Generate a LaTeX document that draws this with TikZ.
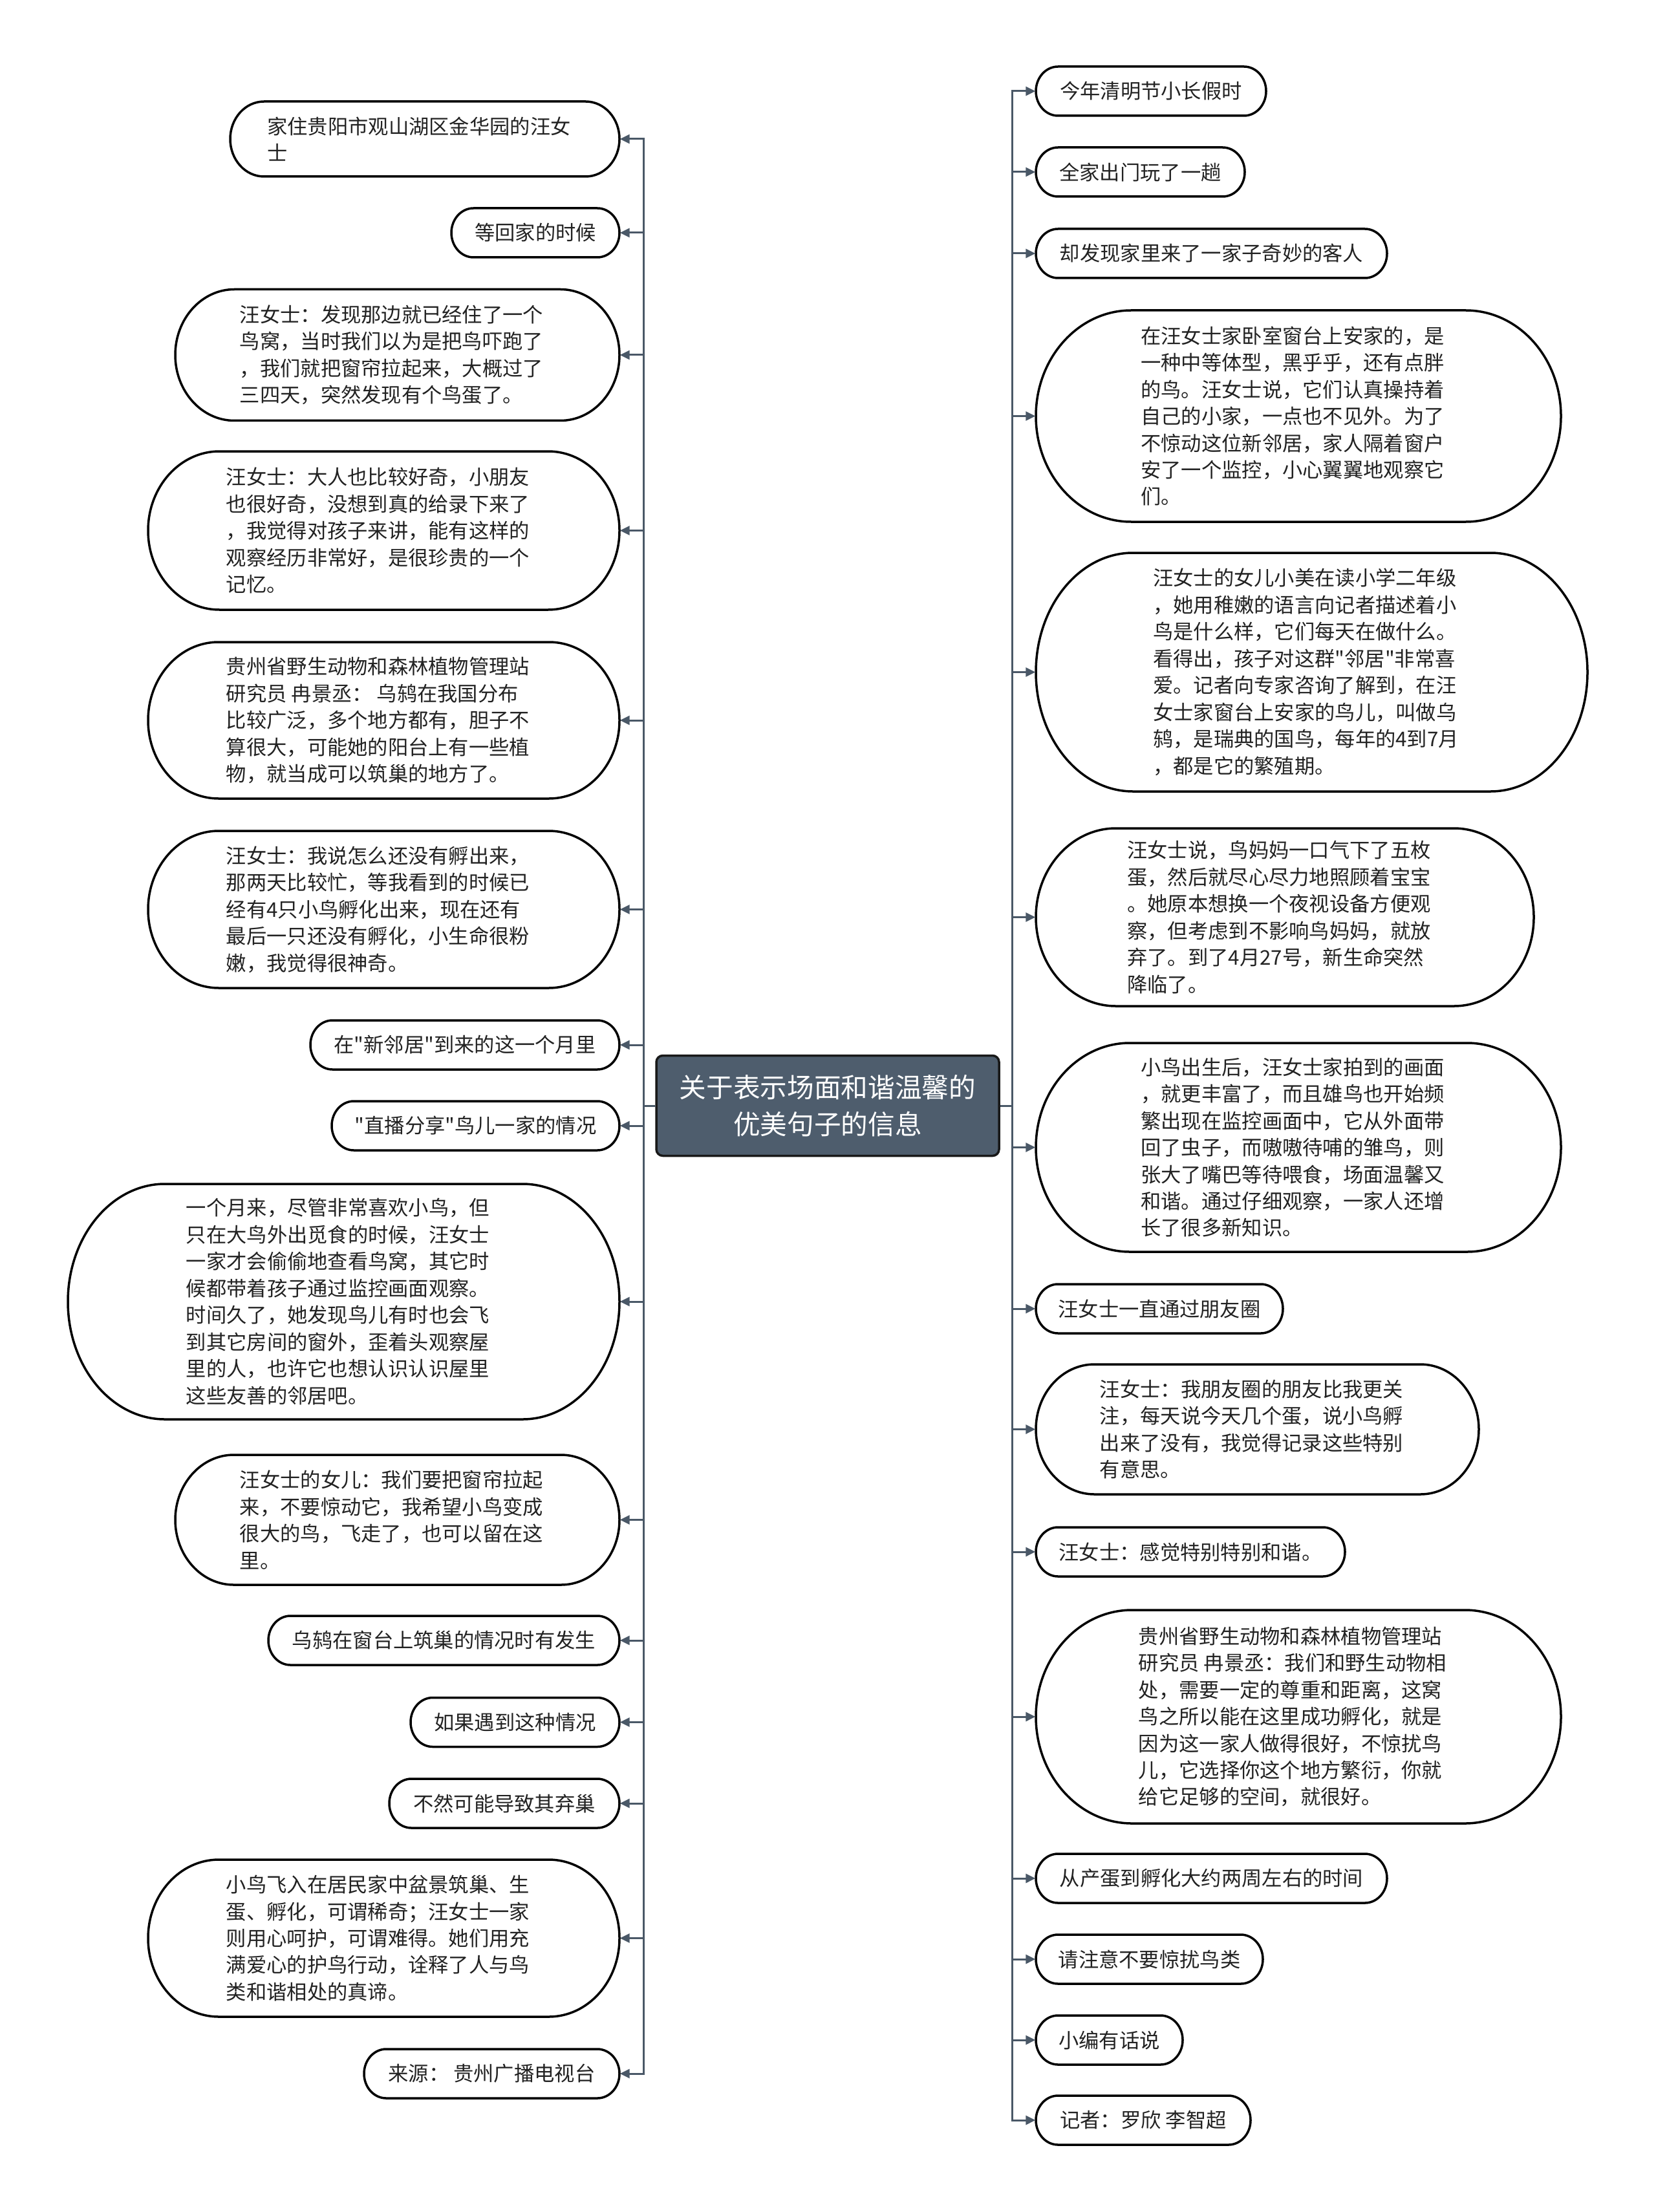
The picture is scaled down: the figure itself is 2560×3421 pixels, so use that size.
\documentclass[tikz,border=0pt]{standalone}
\usepackage{fontspec}
\newfontfamily\cjkfont{Noto Sans CJK SC}
\usetikzlibrary{arrows.meta}
\definecolor{connc}{HTML}{4A5867}
\definecolor{rootfill}{HTML}{4E5D6D}
\definecolor{txtc}{HTML}{222222}
\tikzset{
  pillshape/.style={inner sep=0pt},
  pilltext/.style={inner sep=0pt, align=left, text=txtc,
    font=\cjkfont\fontsize{8.9pt}{11.8pt}\selectfont},
  boxline/.style={draw=black, line width=0.35mm},
  conn/.style={draw=connc, line width=0.3mm, -{Triangle[length=1.5mm,width=1.4mm]}},
  rootbox/.style={fill=rootfill, draw=black!90, line width=0.35mm, rounded corners=1mm,
    text=white, align=center, inner sep=0pt,
    font=\cjkfont\fontsize{11.85pt}{16.1pt}\selectfont}
}
% [#1 text x offset], #2 name, #3 cx, #4 cy, #5 w, #6 h, #7 text
\newcommand\pillnode[7][0]{%
  \pgfmathsetlengthmacro\pnW{#5*0.1mm}%
  \pgfmathsetlengthmacro\pnH{#6*0.1mm}%
  \pgfmathsetmacro\pnRX{min(0.45*#6,150)}%
  \pgfmathsetmacro\pnHH{#6/2}%
  \pgfmathsetlengthmacro\pnRXL{\pnRX*0.1mm}%
  \pgfmathsetlengthmacro\pnRYL{\pnHH*0.1mm}%
  \node[pillshape, minimum width=\pnW, minimum height=\pnH] (#2) at (#3,#4) {};
  \node[pilltext] (#2-t) at ({#3+#1},#4) {#7};
  \draw[boxline] ({#3+#5/2-\pnRX},{#4-\pnHH})
    arc[start angle=90, end angle=-90, x radius=\pnRXL, y radius=\pnRYL]
    -- ({#3-#5/2+\pnRX},{#4+\pnHH})
    arc[start angle=270, end angle=90, x radius=\pnRXL, y radius=\pnRYL]
    -- cycle;
}
\begin{document}
\begin{tikzpicture}[x=0.1mm, y=-0.1mm]
\fill[white] (0,0) rectangle (2560,3421);
\useasboundingbox (0,0) rectangle (2560,3421);

\node[rootbox, minimum width=53mm, minimum height=15.5mm] (root) at (1280,1710)
  {关于表示场面和谐温馨的\\优美句子的信息};

% left branch
\pillnode[-9]{L1}{657}{215}{602}{116}{家住贵阳市观山湖区金华园的汪女\\士}
\pillnode{L2}{828}{360}{260}{76}{等回家的时候}
\pillnode[-9]{L3}{614.5}{549}{687}{203}{汪女士：发现那边就已经住了一个\\鸟窝，当时我们以为是把鸟吓跑了\\，我们就把窗帘拉起来，大概过了\\三四天，突然发现有个鸟蛋了。}
\pillnode[-9]{L4}{593.5}{820.5}{729}{245}{汪女士：大人也比较好奇，小朋友\\也很好奇，没想到真的给录下来了\\，我觉得对孩子来讲，能有这样的\\观察经历非常好，是很珍贵的一个\\记忆。}
\pillnode[-9]{L5}{593.5}{1114}{729}{242}{贵州省野生动物和森林植物管理站\\研究员 冉景丞： 乌鸫在我国分布\\比较广泛，多个地方都有，胆子不\\算很大，可能她的阳台上有一些植\\物，就当成可以筑巢的地方了。}
\pillnode[-9]{L6}{593.5}{1406.5}{729}{243}{汪女士：我说怎么还没有孵出来，\\那两天比较忙，等我看到的时候已\\经有4只小鸟孵化出来，现在还有\\最后一只还没有孵化，小生命很粉\\嫩，我觉得很神奇。}
\pillnode{L7}{719}{1616}{478}{76}{在"新邻居"到来的这一个月里}
\pillnode{L8}{735.5}{1741}{445}{76}{"直播分享"鸟儿一家的情况}
\pillnode[-9]{L9}{531.5}{2013}{853}{364}{一个月来，尽管非常喜欢小鸟，但\\只在大鸟外出觅食的时候，汪女士\\一家才会偷偷地查看鸟窝，其它时\\候都带着孩子通过监控画面观察。\\时间久了，她发现鸟儿有时也会飞\\到其它房间的窗外，歪着头观察屋\\里的人，也许它也想认识认识屋里\\这些友善的邻居吧。}
\pillnode[-9]{L10}{614.5}{2350.5}{687}{201}{汪女士的女儿：我们要把窗帘拉起\\来，不要惊动它，我希望小鸟变成\\很大的鸟，飞走了，也可以留在这\\里。}
\pillnode{L11}{686.5}{2537}{543}{76}{乌鸫在窗台上筑巢的情况时有发生}
\pillnode{L12}{796.5}{2663.5}{323}{76}{如果遇到这种情况}
\pillnode{L13}{780}{2789}{356}{76}{不然可能导致其弃巢}
\pillnode[-9]{L14}{593.5}{2997.5}{729}{243}{小鸟飞入在居民家中盆景筑巢、生\\蛋、孵化，可谓稀奇；汪女士一家\\则用心呵护，可谓难得。她们用充\\满爱心的护鸟行动，诠释了人与鸟\\类和谐相处的真谛。}
\pillnode{L15}{760.5}{3207}{395}{76}{来源： 贵州广播电视台}

% right branch
\pillnode{R1}{1780}{141}{356}{76}{今年清明节小长假时}
\pillnode{R2}{1763.5}{266}{323}{76}{全家出门玩了一趟}
\pillnode{R3}{1873.5}{392}{543}{76}{却发现家里来了一家子奇妙的客人}
\pillnode[-9]{R4}{2008}{643.5}{812}{327}{在汪女士家卧室窗台上安家的，是\\一种中等体型，黑乎乎，还有点胖\\的鸟。汪女士说，它们认真操持着\\自己的小家，一点也不见外。为了\\不惊动这位新邻居，家人隔着窗户\\安了一个监控，小心翼翼地观察它\\们。}
\pillnode[-9]{R5}{2028.5}{1039.5}{853}{369}{汪女士的女儿小美在读小学二年级\\，她用稚嫩的语言向记者描述着小\\鸟是什么样，它们每天在做什么。\\看得出，孩子对这群"邻居"非常喜\\爱。记者向专家咨询了解到，在汪\\女士家窗台上安家的鸟儿，叫做乌\\鸫，是瑞典的国鸟，每年的4到7月\\，都是它的繁殖期。}
\pillnode[-9]{R6}{1987}{1418.5}{770}{275}{汪女士说，鸟妈妈一口气下了五枚\\蛋，然后就尽心尽力地照顾着宝宝\\。她原本想换一个夜视设备方便观\\察，但考虑到不影响鸟妈妈，就放\\弃了。到了4月27号，新生命突然\\降临了。}
\pillnode[-9]{R7}{2008}{1774.5}{812}{323}{小鸟出生后，汪女士家拍到的画面\\，就更丰富了，而且雄鸟也开始频\\繁出现在监控画面中，它从外面带\\回了虫子，而嗷嗷待哺的雏鸟，则\\张大了嘴巴等待喂食，场面温馨又\\和谐。通过仔细观察，一家人还增\\长了很多新知识。}
\pillnode{R8}{1793}{2024}{382}{76}{汪女士一直通过朋友圈}
\pillnode[-9]{R9}{1944.5}{2210.5}{685}{201}{汪女士：我朋友圈的朋友比我更关\\注，每天说今天几个蛋，说小鸟孵\\出来了没有，我觉得记录这些特别\\有意思。}
\pillnode{R10}{1841}{2400}{478}{76}{汪女士：感觉特别特别和谐。}
\pillnode[-9]{R11}{2008}{2655}{812}{330}{贵州省野生动物和森林植物管理站\\研究员 冉景丞：我们和野生动物相\\处，需要一定的尊重和距离，这窝\\鸟之所以能在这里成功孵化，就是\\因为这一家人做得很好，不惊扰鸟\\儿，它选择你这个地方繁衍，你就\\给它足够的空间，就很好。}
\pillnode{R12}{1873.5}{2905}{543}{76}{从产蛋到孵化大约两周左右的时间}
\pillnode{R13}{1777.5}{3030}{351}{76}{请注意不要惊扰鸟类}
\pillnode{R14}{1715.5}{3155}{227}{76}{小编有话说}
\pillnode{R15}{1768}{3279}{332}{76}{记者：罗欣 李智超}

% connectors
\coordinate (spL) at (995,1710);
\coordinate (spR) at (1565,1710);
\foreach \n in {L1,L2,L3,L4,L5,L6,L7,L8,L9,L10,L11,L12,L13,L14,L15}
  \draw[conn] (root.west) -- (spL) |- (\n.east);
\foreach \n in {R1,R2,R3,R4,R5,R6,R7,R8,R9,R10,R11,R12,R13,R14,R15}
  \draw[conn] (root.east) -- (spR) |- (\n.west);
\end{tikzpicture}
\end{document}
